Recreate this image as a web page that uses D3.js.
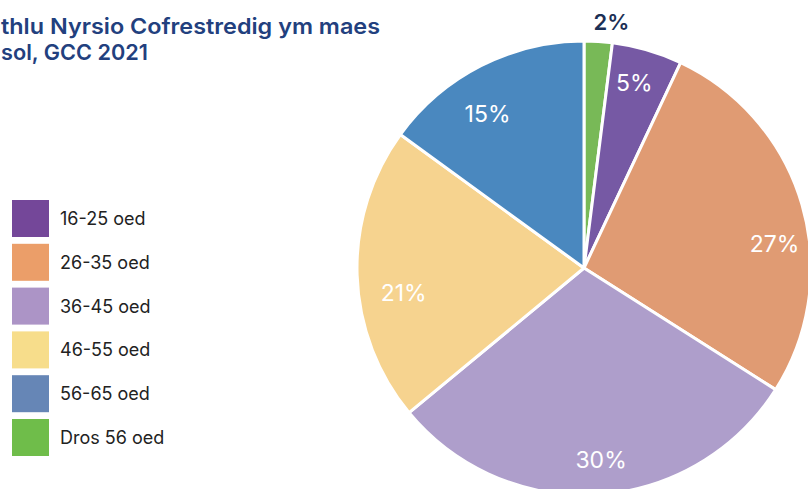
<!DOCTYPE html>
<html>
<head>
<meta charset="utf-8">
<script src="https://cdn.jsdelivr.net/npm/d3@7"></script>
<style>
  html, body { margin: 0; padding: 0; background: #fff; overflow: hidden; }
  svg { display: block; }
</style>
</head>
<body>
<svg id="chart" width="808" height="489"></svg>
<script>
// Age groups as drawn clockwise from 12 o'clock
const sliceGroups = ["Dros 56 oed", "16-25 oed", "26-35 oed", "36-45 oed", "46-55 oed", "56-65 oed"];
const sliceValues = [2, 5, 27, 30, 21, 15];
const sliceColors = ["#78b957", "#7659a4", "#e09b73", "#ae9ecb", "#f6d38f", "#4a88bf"];

// Legend order and its (slightly different) swatch colours
const legendLabels = ["16-25 oed", "26-35 oed", "36-45 oed", "46-55 oed", "56-65 oed", "Dros 56 oed"];
const legendColors = ["#744799", "#eb9e69", "#ac94c6", "#f7dd8b", "#6686b6", "#6fbd4a"];

// Visible part of the title (the chart is cropped on the left)
const titleLines = ["thlu Nyrsio Cofrestredig ym maes", "sol, GCC 2021"];

const svg = d3.select("#chart");
const cx = 584, cy = 268, radius = 227;

// Title
const titleRight = [380, 148];
titleLines.forEach((line, i) => {
    svg.append("text")
        .attr("x", 1).attr("y", 34 + i * 26)
        .attr("textLength", titleRight[i] - 1)
        .attr("lengthAdjust", "spacingAndGlyphs")
        .attr("font-family", "Inter, 'Noto Sans', sans-serif")
        .attr("font-weight", 600)
        .attr("font-size", 22)
        .attr("fill", "#22407e")
        .text(line);
});

// Pie
const pie = d3.pie().sort(null).value(d => d)(sliceValues);
const arc = d3.arc().innerRadius(0).outerRadius(radius);

const g = svg.append("g").attr("transform", `translate(${cx},${cy})`);

g.selectAll("path")
    .data(pie)
    .join("path")
    .attr("d", arc)
    .attr("fill", (d, i) => sliceColors[i])
    .attr("stroke", "#fff")
    .attr("stroke-width", 3)
    .attr("stroke-linejoin", "round");

// label placement: small slices go outside, rest a bit in from the rim
const nudge = [0, -1, 9, -1.5, -6, -5];
function labelPos(d, i) {
    const a = (d.startAngle + d.endAngle) / 2 + nudge[i] * Math.PI / 180;
    if (d.value < 3) {
        return [Math.sin(a) * 246 + 12, -Math.cos(a) * 246];
    }
    const r = (i === 4 || i === 5) ? 182 : 192;
    return [Math.sin(a) * r, -Math.cos(a) * r];
}

g.selectAll("text.pct")
    .data(pie)
    .join("text")
    .attr("class", "pct")
    .attr("transform", (d, i) => `translate(${labelPos(d, i)})`)
    .attr("text-anchor", "middle")
    .attr("dy", "0.36em")
    .attr("font-family", "Inter, 'Noto Sans', sans-serif")
    .attr("font-size", d => d.value < 3 ? 22 : 23)
    .attr("font-weight", d => d.value < 3 ? 600 : 400)
    .attr("fill", d => d.value < 3 ? "#1c2f55" : "#fff")
    .text(d => d.value + "%");

// Legend
const legend = svg.append("g");
const legendY = d3.scaleBand().domain(legendLabels).range([200, 200 + 43.8 * 6]);

legend.selectAll("rect")
    .data(legendLabels)
    .join("rect")
    .attr("x", 12)
    .attr("y", d => legendY(d))
    .attr("width", 37)
    .attr("height", 37)
    .attr("fill", (d, i) => legendColors[i]);

legend.selectAll("text")
    .data(legendLabels)
    .join("text")
    .attr("x", 60)
    .attr("y", d => legendY(d) + 25)
    .attr("font-family", "Inter, 'Liberation Sans', sans-serif")
    .attr("font-size", 18)
    .attr("fill", "#222")
    .text(d => d);
</script>
</body>
</html>
